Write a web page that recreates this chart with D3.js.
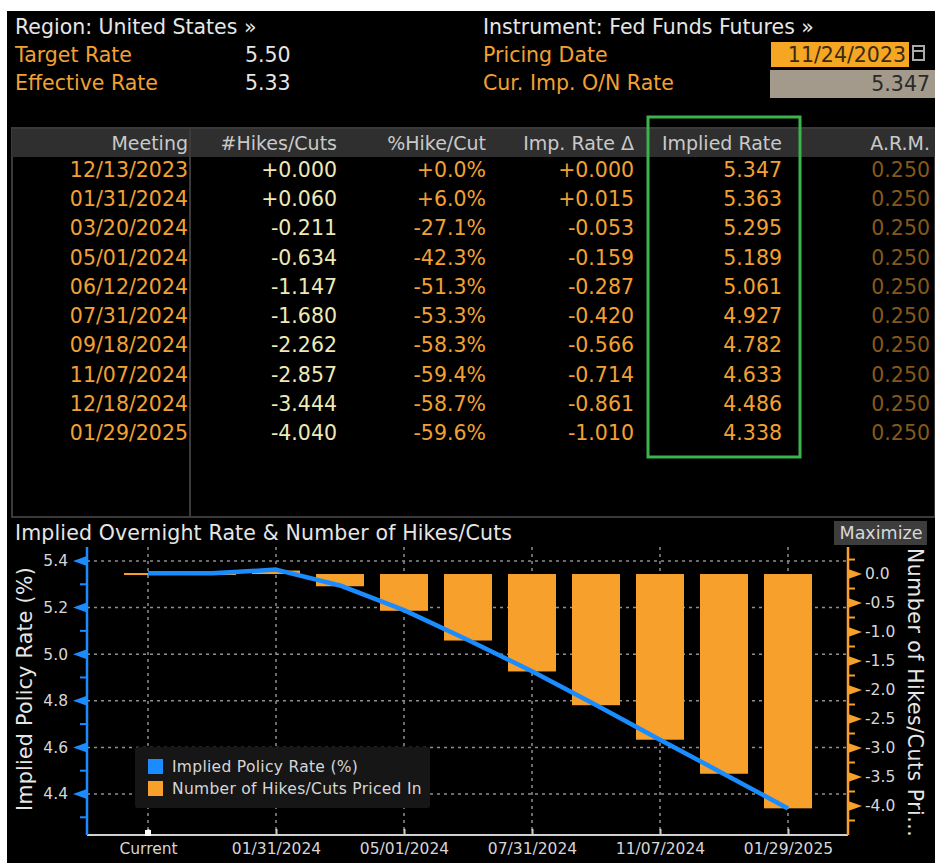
<!DOCTYPE html>
<html>
<head>
<meta charset="utf-8">
<script src="https://cdn.jsdelivr.net/npm/d3@7"></script>
<style>
  html, body { margin: 0; padding: 0; background: #ffffff; }
  svg { display: block; }
  text { font-family: "DejaVu Sans", Verdana, sans-serif; }
</style>
</head>
<body>
<svg id="chart" width="935" height="863"></svg>
<script>
// ---------- DATA ----------
const meetings = ["12/13/2023","01/31/2024","03/20/2024","05/01/2024","06/12/2024","07/31/2024","09/18/2024","11/07/2024","12/18/2024","01/29/2025"];
const hikesCuts = [0.000, 0.060, -0.211, -0.634, -1.147, -1.680, -2.262, -2.857, -3.444, -4.040];
const pctHikeCut = [0.0, 6.0, -27.1, -42.3, -51.3, -53.3, -58.3, -59.4, -58.7, -59.6];
const impRateDelta = [0.000, 0.015, -0.053, -0.159, -0.287, -0.420, -0.566, -0.714, -0.861, -1.010];
const impliedRate = [5.347, 5.363, 5.295, 5.189, 5.061, 4.927, 4.782, 4.633, 4.486, 4.338];
const arm = [0.250, 0.250, 0.250, 0.250, 0.250, 0.250, 0.250, 0.250, 0.250, 0.250];
const tableHeaders = ["Meeting", "#Hikes/Cuts", "%Hike/Cut", "Imp. Rate \u0394", "Implied Rate", "A.R.M."];

const targetRate = "5.50";
const effectiveRate = "5.33";
const pricingDate = "11/24/2023";
const curImpRate = 5.347;

const chartCategories = ["Current"].concat(meetings);
const chartRates = [curImpRate].concat(impliedRate);
const chartHikes = [0].concat(hikesCuts);
const xTickLabels = ["Current", "01/31/2024", "05/01/2024", "07/31/2024", "11/07/2024", "01/29/2025"];
const leftTicks = [4.4, 4.6, 4.8, 5.0, 5.2, 5.4];
const leftMinor = [4.3, 4.5, 4.7, 4.9, 5.1, 5.3];
const rightTicks = [0.0, -0.5, -1.0, -1.5, -2.0, -2.5, -3.0, -3.5, -4.0];
const rightMinor = [0.25, -0.25, -0.75, -1.25, -1.75, -2.25, -2.75, -3.25, -3.75, -4.25];

// ---------- STYLE ----------
const ORANGE = "#f2a134";
const WHITE = "#e6e6e6";
const BLUE = "#1a8cff";
const BAR = "#f7a12c";
const svg = d3.select("#chart");

// background panel
svg.append("rect").attr("x", 7).attr("y", 11).attr("width", 928).attr("height", 852).attr("fill", "#000");

// ---------- HEADER ----------
const hdr = svg.append("g").style("font-size", "20.5px");
hdr.append("text").attr("x", 15).attr("y", 34).attr("fill", WHITE).text("Region: United States \u00bb");
hdr.append("text").attr("x", 15).attr("y", 62).attr("fill", ORANGE).text("Target Rate");
hdr.append("text").attr("x", 245).attr("y", 62).attr("fill", WHITE).text(targetRate);
hdr.append("text").attr("x", 15).attr("y", 90).attr("fill", ORANGE).text("Effective Rate");
hdr.append("text").attr("x", 245).attr("y", 90).attr("fill", WHITE).text(effectiveRate);

hdr.append("text").attr("x", 483).attr("y", 34).attr("fill", WHITE).text("Instrument: Fed Funds Futures \u00bb");
hdr.append("text").attr("x", 483).attr("y", 62).attr("fill", ORANGE).text("Pricing Date");
hdr.append("text").attr("x", 483).attr("y", 90).attr("fill", ORANGE).text("Cur. Imp. O/N Rate");

hdr.append("rect").attr("x", 771).attr("y", 42).attr("width", 138).attr("height", 25).attr("fill", "#f5a623");
hdr.append("text").attr("x", 906).attr("y", 62).attr("text-anchor", "end").attr("fill", "#3a2a10").text(pricingDate);
// calendar icon
hdr.append("rect").attr("x", 913).attr("y", 46).attr("width", 11).attr("height", 14).attr("fill", "none").attr("stroke", "#aaa").attr("stroke-width", 2);
hdr.append("line").attr("x1", 913).attr("x2", 924).attr("y1", 51).attr("y2", 51).attr("stroke", "#aaa").attr("stroke-width", 2);
hdr.append("rect").attr("x", 770).attr("y", 70).attr("width", 165).attr("height", 28).attr("fill", "#a39a8b");
hdr.append("text").attr("x", 930).attr("y", 91).attr("text-anchor", "end").attr("fill", "#2a2a2a").text(d3.format(".3f")(curImpRate));

// ---------- TABLE ----------
const tbl = svg.append("g").style("font-size", "20.5px");
tbl.append("rect").attr("x", 12).attr("y", 128).attr("width", 923).attr("height", 389)
  .attr("fill", "none").attr("stroke", "#3a3a3a").attr("stroke-width", 2);
tbl.append("rect").attr("x", 12).attr("y", 129).attr("width", 923).attr("height", 28).attr("fill", "#2f2f2f");
tbl.append("line").attr("x1", 190).attr("x2", 190).attr("y1", 129).attr("y2", 517).attr("stroke", "#3a3a3a").attr("stroke-width", 2);

const colRight = [188, 337, 486, 634, 782, 930];
tableHeaders.forEach((h, i) => {
  tbl.append("text").attr("x", colRight[i]).attr("y", 150).attr("text-anchor", "end")
    .style("font-size", "19px").attr("fill", "#c9c9c9").text(h);
});
const sgn = f => v => f(v).replace("\u2212", "-");
const f3 = sgn(d3.format("+.3f"));
const f1 = sgn(d3.format("+.1f"));
const rowY = d3.scaleLinear().domain([0, meetings.length - 1]).range([177, 440]);
meetings.forEach((m, i) => {
  const y = rowY(i);
  const cells = [
    [m, ORANGE],
    [f3(hikesCuts[i]), "#eeeab8"],
    [f1(pctHikeCut[i]) + "%", ORANGE],
    [f3(impRateDelta[i]), ORANGE],
    [d3.format(".3f")(impliedRate[i]), ORANGE],
    [d3.format(".3f")(arm[i]), "#85581c"]
  ];
  cells.forEach((c, j) => {
    tbl.append("text").attr("x", colRight[j]).attr("y", y).attr("text-anchor", "end")
      .attr("fill", c[1]).text(c[0]);
  });
});
// highlight box
svg.append("rect").attr("x", 648).attr("y", 117).attr("width", 152).attr("height", 340)
  .attr("fill", "none").attr("stroke", "#3cb44a").attr("stroke-width", 3);

// ---------- CHART ----------
svg.append("text").attr("x", 15).attr("y", 540).attr("fill", WHITE).style("font-size", "20.5px")
  .style("letter-spacing", "0.15px").text("Implied Overnight Rate & Number of Hikes/Cuts");
svg.append("rect").attr("x", 834).attr("y", 521).attr("width", 93).attr("height", 24).attr("fill", "#3d3d3d");
svg.append("text").attr("x", 881).attr("y", 539).attr("text-anchor", "middle").attr("fill", "#d8d8d8")
  .style("font-size", "17.5px").text("Maximize");

const X0 = 87, X1 = 848, YT = 547, YB = 835;
const x = d3.scalePoint().domain(chartCategories).range([148, 788]);
const yL = d3.scaleLinear().domain([4.224, 5.46]).range([YB, YT]);
const yR = d3.scaleLinear().domain([-4.5, 0.466]).range([YB, YT]);
const barW = 48;

const g = svg.append("g");
// gridlines
g.selectAll(".hgrid").data(leftTicks).join("line")
  .attr("x1", X0).attr("x2", X1).attr("y1", d => yL(d)).attr("y2", d => yL(d))
  .attr("stroke", "#8f8f8f").attr("stroke-width", 1.5).attr("stroke-dasharray", "3,4");
g.selectAll(".vgrid").data(xTickLabels).join("line")
  .attr("x1", d => x(d)).attr("x2", d => x(d)).attr("y1", YT).attr("y2", YB)
  .attr("stroke", "#8f8f8f").attr("stroke-width", 1.5).attr("stroke-dasharray", "3,4");

// bars
g.selectAll(".bar").data(chartCategories.map((c, i) => ({c, v: chartHikes[i]}))).join("rect")
  .attr("x", d => x(d.c) - barW / 2).attr("width", barW)
  .attr("y", d => Math.min(yR(0), yR(d.v)) - (d.v === 0 ? 1 : 0))
  .attr("height", d => Math.max(2, Math.abs(yR(d.v) - yR(0))))
  .attr("fill", BAR);

// line
const line = d3.line().x(d => x(d.c)).y(d => yL(d.v));
g.append("path").datum(chartCategories.map((c, i) => ({c, v: chartRates[i]})))
  .attr("d", line).attr("fill", "none").attr("stroke", BLUE).attr("stroke-width", 4.5)
  .attr("stroke-linejoin", "round");

// x axis
const xAxis = d3.axisBottom(x).tickValues(xTickLabels).tickSize(6).tickSizeInner(-6).tickPadding(11);
const gx = g.append("g").attr("transform", `translate(0,${YB})`).call(xAxis);
gx.select(".domain").remove();
gx.append("line").attr("x1", X0).attr("x2", X1).attr("y1", 0).attr("y2", 0).attr("stroke", "#d0d0d0").attr("stroke-width", 2);
gx.selectAll(".tick line").attr("stroke", "#d0d0d0").attr("stroke-width", 2);
gx.selectAll(".tick text").attr("fill", "#d6d6d6").style("font-size", "15.5px").attr("dy", "0.5em");
gx.append("rect").attr("x", x("Current") - 3).attr("y", -5).attr("width", 6).attr("height", 6).attr("fill", "#fff");

// left axis
const gl = g.append("g").attr("transform", `translate(${X0},0)`);
gl.append("line").attr("x1", 0).attr("x2", 0).attr("y1", YT).attr("y2", YB).attr("stroke", BLUE).attr("stroke-width", 2.5);
const leftAxis = d3.axisLeft(yL).tickValues(leftTicks).tickSize(0).tickPadding(19).tickFormat(d3.format(".1f"));
const gla = g.append("g").attr("transform", `translate(${X0},0)`).call(leftAxis);
gla.select(".domain").remove();
gla.selectAll(".tick text").attr("fill", "#d6d6d6").style("font-size", "15.5px");
gl.selectAll(".tri").data(leftTicks).join("path")
  .attr("d", d => `M0,${yL(d) - 5}L-14,${yL(d)}L0,${yL(d) + 5}Z`).attr("fill", BLUE);
gl.selectAll(".minor").data(leftMinor).join("line")
  .attr("x1", -7).attr("x2", 0).attr("y1", d => yL(d)).attr("y2", d => yL(d)).attr("stroke", BLUE).attr("stroke-width", 2);

// right axis
const gr = g.append("g").attr("transform", `translate(${X1},0)`);
gr.append("line").attr("x1", 0).attr("x2", 0).attr("y1", YT).attr("y2", YB).attr("stroke", BAR).attr("stroke-width", 2.5);
const rightAxis = d3.axisRight(yR).tickValues(rightTicks).tickSize(0).tickPadding(17).tickFormat(d3.format(".1f"));
const gra = g.append("g").attr("transform", `translate(${X1},0)`).call(rightAxis);
gra.select(".domain").remove();
gra.selectAll(".tick text").attr("fill", "#d6d6d6").style("font-size", "15.5px")
  .text(d => d3.format(".1f")(d).replace("\u2212", "-"));
gr.selectAll(".tri").data(rightTicks).join("path")
  .attr("d", d => `M0,${yR(d) - 5}L14,${yR(d)}L0,${yR(d) + 5}Z`).attr("fill", BAR);
gr.selectAll(".minor").data(rightMinor).join("line")
  .attr("x1", 0).attr("x2", 7).attr("y1", d => yR(d)).attr("y2", d => yR(d)).attr("stroke", BAR).attr("stroke-width", 2);

// axis titles
svg.append("text").attr("transform", "translate(32,689) rotate(-90)").attr("text-anchor", "middle")
  .attr("fill", WHITE).style("font-size", "20.5px").style("letter-spacing", "0.3px").text("Implied Policy Rate (%)");
svg.append("text").attr("transform", "translate(908,548) rotate(90)").attr("text-anchor", "start")
  .attr("fill", WHITE).style("font-size", "20.5px").style("letter-spacing", "0.5px").text("Number of Hikes/Cuts Pri...");

// legend
const lg = svg.append("g");
lg.append("rect").attr("x", 135).attr("y", 747).attr("width", 295).attr("height", 61).attr("rx", 3).attr("fill", "#161616");
lg.append("rect").attr("x", 148).attr("y", 759).attr("width", 15).attr("height", 15).attr("fill", BLUE);
lg.append("rect").attr("x", 148).attr("y", 781).attr("width", 15).attr("height", 15).attr("fill", BAR);
lg.append("text").attr("x", 172).attr("y", 772).attr("fill", "#d6d6d6").style("font-size", "15.5px").style("letter-spacing", "0.3px").text("Implied Policy Rate (%)");
lg.append("text").attr("x", 172).attr("y", 794).attr("fill", "#d6d6d6").style("font-size", "15.5px").style("letter-spacing", "0.3px").text("Number of Hikes/Cuts Priced In");
</script>
</body>
</html>
